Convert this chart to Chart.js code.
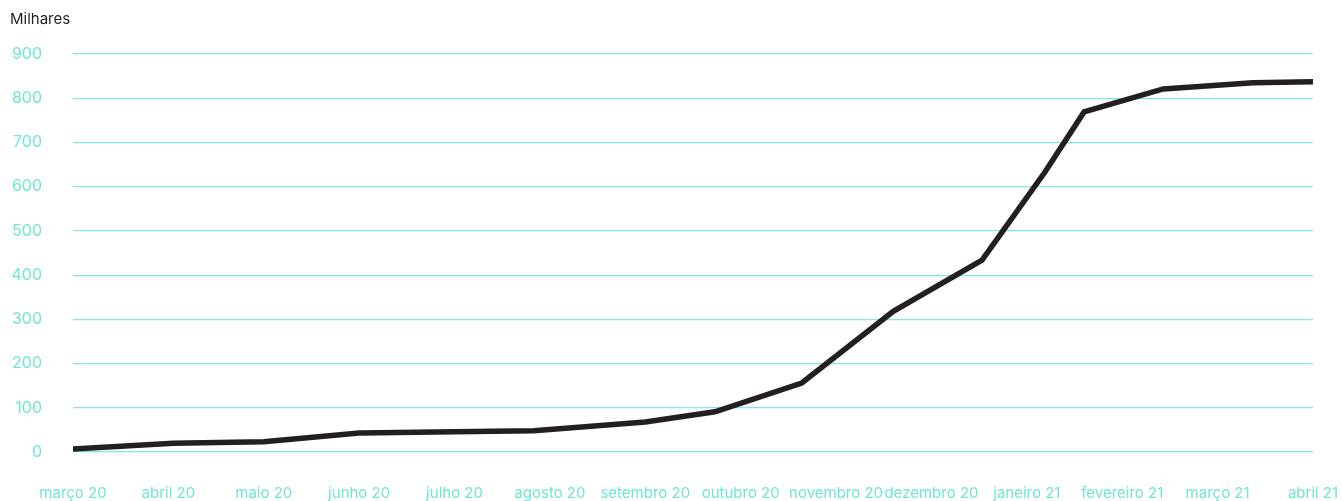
<!DOCTYPE html>
<html>
<head>
<meta charset="utf-8">
<script src="https://cdn.jsdelivr.net/npm/chart.js@4"></script>
<style>
  html, body { margin: 0; padding: 0; background: #ffffff; overflow: hidden; }
  canvas { display: block; }
</style>
</head>
<body>
<canvas id="grafico" width="1342" height="501" style="width:1342px;height:501px"></canvas>
<script>
// rótulos dos meses no eixo x (posição 0 = março 20)
var meses = ['março 20', 'abril 20', 'maio 20', 'junho 20', 'julho 20', 'agosto 20', 'setembro 20',
    'outubro 20', 'novembro 20', 'dezembro 20', 'janeiro 21', 'fevereiro 21', 'março 21', 'abril 21'];

// posição de cada ponto em meses desde março 20
var posicoes = [0, 1.05, 2, 3, 4, 4.83, 6, 6.73, 7.64, 8.6, 9.53, 10.19, 10.6, 11.43, 12.37, 13];

// valores em milhares
var valores = [7, 20, 23, 43, 46, 48, 68, 91, 156, 318, 434, 633, 769, 821, 835, 837];

var yTicks = [0, 100, 200, 300, 400, 500, 600, 700, 800, 900];

var pontos = posicoes.map(function (x, i) {
    return { x: x, y: valores[i] };
});

var corTeal = '#6ee6d3';
var corGrade = '#84e9da';

var ctx = document.getElementById('grafico').getContext('2d');

var meuGrafico = new Chart(ctx, {
    type: 'line',
    data: {
        datasets: [{
            label: 'Milhares',
            data: pontos,
            borderColor: '#231f20',
            borderWidth: 5.5,
            borderCapStyle: 'round',
            borderJoinStyle: 'miter',
            pointRadius: 0,
            tension: 0,
            fill: false
        }]
    },
    options: {
        responsive: false,
        animation: false,
        layout: {
            padding: { left: 10, right: 0, top: 10, bottom: 0 }
        },
        plugins: {
            legend: { display: false },
            tooltip: { enabled: false },
            title: {
                display: true,
                text: 'Milhares',
                align: 'start',
                color: '#231f20',
                font: { family: 'Inter', size: 15, weight: 'normal', lineHeight: 1.2 },
                padding: { top: 0, bottom: 26 }
            }
        },
        scales: {
            x: {
                type: 'linear',
                min: 0,
                max: 13,
                grid: { display: false, drawTicks: false },
                border: { display: false },
                ticks: {
                    stepSize: 1,
                    autoSkip: false,
                    maxRotation: 0,
                    padding: 32,
                    color: corTeal,
                    font: { family: 'Inter', size: 15 },
                    callback: function (valor) {
                        return meses[valor];
                    }
                },
                afterBuildTicks: function (escala) {
                    escala.ticks = meses.map(function (m, i) { return { value: i }; });
                },
                afterFit: function (escala) {
                    escala.height = 49;
                    escala.paddingLeft = 0;
                    escala.paddingRight = 29;
                }
            },
            y: {
                min: 0,
                max: 900,
                grid: { color: corGrade, lineWidth: 1.2, drawTicks: false },
                border: { display: false },
                ticks: {
                    stepSize: 100,
                    padding: 31,
                    color: corTeal,
                    font: { family: 'Inter', size: 16 }
                },
                afterBuildTicks: function (escala) {
                    escala.ticks = yTicks.map(function (v) { return { value: v }; });
                },
                afterFit: function (escala) {
                    escala.width = 63;
                    escala.paddingTop = 0;
                    escala.paddingBottom = 0;
                }
            }
        }
    }
});
</script>
</body>
</html>
